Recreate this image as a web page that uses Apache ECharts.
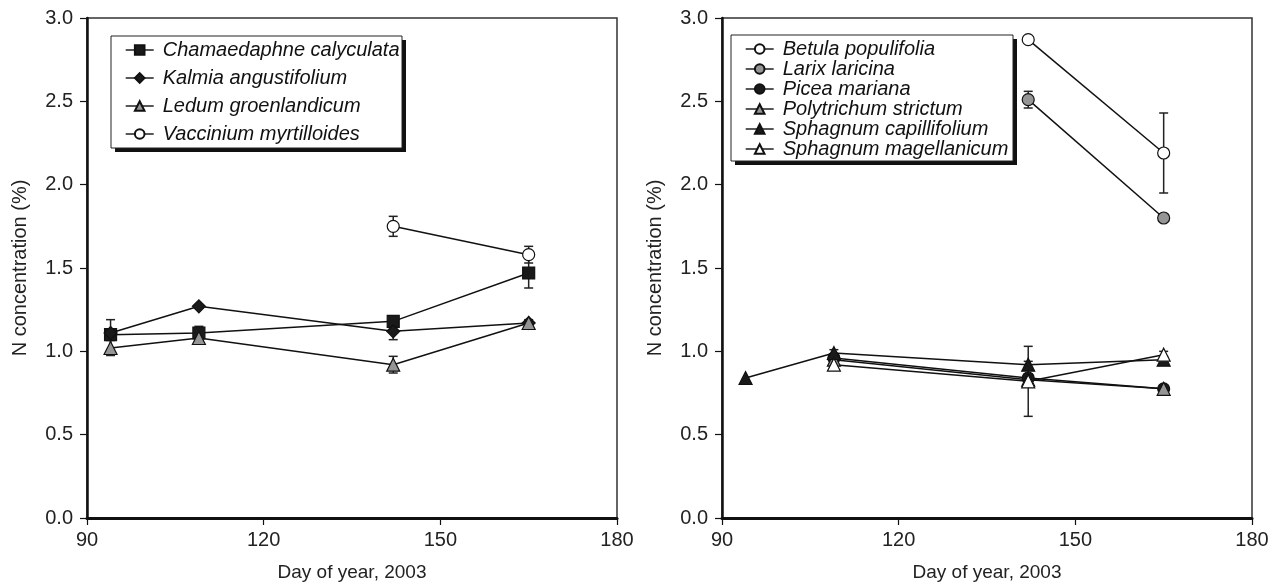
<!DOCTYPE html>
<html>
<head>
<meta charset="utf-8">
<script src="https://cdn.jsdelivr.net/npm/echarts@6/dist/echarts.min.js"></script>
<style>
html, body { margin: 0; padding: 0; background: #fff; }
#chart_n { width: 1277px; height: 585px; }
</style>
</head>
<body>
<div id="chart_n"></div>
<script>
// left panel: shrubs
var days_left = [94, 109, 142, 165];
var days_vacc = [142, 165];
var n_chamaedaphne = [1.10, 1.11, 1.18, 1.47];
var err_chamaedaphne = [0.09, 0.04, 0.02, 0.09];
var n_kalmia = [1.11, 1.27, 1.12, 1.17];
var err_kalmia = [0, 0, 0.05, 0];
var n_ledum = [1.02, 1.08, 0.92, 1.17];
var err_ledum = [0.045, 0.02, 0.05, 0.02];
var n_vaccinium = [1.75, 1.58];
var err_vaccinium = [0.06, 0.05];

// right panel: trees and mosses
var days_tree = [142, 165];
var days_moss = [109, 142, 165];
var days_capill = [94, 109, 142, 165];
var n_betula = [2.87, 2.19];
var err_betula = [0, 0.24];
var n_larix = [2.51, 1.80];
var err_larix = [0.05, 0];
var n_picea = [0.96, 0.84, 0.775];
var err_picea = [0.02, 0.02, 0];
var n_polytrichum = [0.95, 0.83, 0.775];
var err_polytrichum = [0.02, 0.02, 0.01];
var n_capillifolium = [0.84, 0.99, 0.92, 0.95];
var err_capillifolium = [0, 0.02, 0.02, 0.02];
var n_magellanicum = [0.92, 0.82, 0.98];
var err_magellanicum = [0.02, 0.21, 0.02];

var x_ticks = [90, 120, 150, 180];
var y_ticks = [0, 0.5, 1.0, 1.5, 2.0, 2.5, 3.0];

var font_main = "'Liberation Sans', Arial, sans-serif";
var gray_fill = '#959595';

function make_points(days, vals){
    var pts = [];
    for(var i = 0; i < days.length; i++){
        pts.push([days[i], vals[i]]);
    }
    return pts;
}

function make_err(days, vals, errs){
    var pts = [];
    for(var i = 0; i < days.length; i++){
        if(errs[i] > 0)
            pts.push([days[i], vals[i], errs[i]]);
    }
    return pts;
}

function render_err(params, api){
    var x = api.value(0), y = api.value(1), e = api.value(2);
    var top = api.coord([x, y + e]);
    var bot = api.coord([x, y - e]);
    var hw = 4.5;
    var st = { stroke: '#222', lineWidth: 1.5 };
    return {
        type: 'group',
        children: [
            { type: 'line', shape: { x1: top[0], y1: top[1], x2: bot[0], y2: bot[1] }, style: st },
            { type: 'line', shape: { x1: top[0] - hw, y1: top[1], x2: top[0] + hw, y2: top[1] }, style: st },
            { type: 'line', shape: { x1: bot[0] - hw, y1: bot[1], x2: bot[0] + hw, y2: bot[1] }, style: st }
        ]
    };
}

function line_series(name, idx, days, vals, symbol, fill, size){
    return {
        name: name,
        type: 'line',
        xAxisIndex: idx,
        yAxisIndex: idx,
        data: make_points(days, vals),
        symbol: symbol,
        symbolSize: size,
        showAllSymbol: true,
        z: 3,
        lineStyle: { color: '#111', width: 1.5 },
        itemStyle: { color: fill, borderColor: '#111', borderWidth: 1.2 },
        emphasis: { disabled: true },
        animation: false
    };
}

function err_series(idx, days, vals, errs){
    return {
        type: 'custom',
        xAxisIndex: idx,
        yAxisIndex: idx,
        data: make_err(days, vals, errs),
        renderItem: render_err,
        z: 2,
        silent: true,
        animation: false
    };
}

function x_axis(idx){
    return {
        type: 'value',
        gridIndex: idx,
        min: x_ticks[0],
        max: x_ticks[x_ticks.length - 1],
        interval: 30,
        name: 'Day of year, 2003',
        nameLocation: 'middle',
        nameGap: 45,
        nameTextStyle: { fontFamily: font_main, fontSize: 19, color: '#222' },
        axisLine: { lineStyle: { color: '#111', width: 3 } },
        axisTick: { inside: false, length: 7, lineStyle: { color: '#111', width: 1.2 } },
        axisLabel: { fontFamily: font_main, fontSize: 20, color: '#222', margin: 12 },
        splitLine: { show: false }
    };
}

function y_axis(idx){
    return {
        type: 'value',
        gridIndex: idx,
        min: y_ticks[0],
        max: y_ticks[y_ticks.length - 1],
        interval: 0.5,
        name: 'N concentration (%)',
        nameLocation: 'middle',
        nameGap: 57,
        nameTextStyle: { fontFamily: font_main, fontSize: 20, color: '#222' },
        axisLine: { lineStyle: { color: '#111', width: 2.5 } },
        axisTick: { inside: false, length: 7, lineStyle: { color: '#111', width: 1.2 } },
        axisLabel: {
            fontFamily: font_main, fontSize: 20, color: '#222', margin: 14,
            formatter: function(v){ return v.toFixed(1); }
        },
        splitLine: { show: false }
    };
}

function legend_list(left, top, names, gap){
    return {
        left: left,
        top: top,
        z: 10,
        orient: 'vertical',
        data: names,
        itemWidth: 28,
        itemHeight: 12,
        itemGap: gap,
        padding: [4, 6, 4, 14],
        selectedMode: false,
        lineStyle: { width: 1.4 },
        textStyle: {
            fontFamily: font_main, fontSize: 20, fontStyle: 'italic', color: '#111',
            lineHeight: 20, padding: [0, 0, 0, 4]
        }
    };
}

// legend frames with a hard black drop shadow
function legend_frame(x, y, w, h){
    return [
        { type: 'rect', z: 5, shape: { x: x + 4, y: y + 4, width: w, height: h }, style: { fill: '#111' } },
        { type: 'rect', z: 6, shape: { x: x, y: y, width: w, height: h }, style: { fill: '#fff', stroke: '#222', lineWidth: 1 } }
    ];
}

var option_n = {
    backgroundColor: '#fff',
    animation: false,
    grid: [
        { left: 87, right: 660, top: 18, bottom: 67, show: true, borderColor: '#333', borderWidth: 1.5, outerBoundsMode: 'none', containLabel: false },
        { left: 722, right: 25, top: 18, bottom: 67, show: true, borderColor: '#333', borderWidth: 1.5, outerBoundsMode: 'none', containLabel: false }
    ],
    graphic: legend_frame(111, 36, 291, 112).concat(legend_frame(731, 35, 282, 126)),
    xAxis: [x_axis(0), x_axis(1)],
    yAxis: [y_axis(0), y_axis(1)],
    legend: [
        legend_list(111, 36, ['Chamaedaphne calyculata', 'Kalmia angustifolium', 'Ledum groenlandicum', 'Vaccinium myrtilloides'], 8),
        legend_list(731, 35, ['Betula populifolia', 'Larix laricina', 'Picea mariana', 'Polytrichum strictum', 'Sphagnum capillifolium', 'Sphagnum magellanicum'], 0)
    ],
    series: [
        err_series(0, days_left, n_chamaedaphne, err_chamaedaphne),
        err_series(0, days_left, n_kalmia, err_kalmia),
        err_series(0, days_left, n_ledum, err_ledum),
        err_series(0, days_vacc, n_vaccinium, err_vaccinium),
        line_series('Chamaedaphne calyculata', 0, days_left, n_chamaedaphne, 'rect', '#1a1a1a', 12),
        line_series('Kalmia angustifolium', 0, days_left, n_kalmia, 'diamond', '#1a1a1a', 13),
        line_series('Ledum groenlandicum', 0, days_left, n_ledum, 'triangle', gray_fill, 13),
        line_series('Vaccinium myrtilloides', 0, days_vacc, n_vaccinium, 'circle', '#fff', 12),

        err_series(1, days_tree, n_betula, err_betula),
        err_series(1, days_tree, n_larix, err_larix),
        err_series(1, days_moss, n_picea, err_picea),
        err_series(1, days_moss, n_polytrichum, err_polytrichum),
        err_series(1, days_capill, n_capillifolium, err_capillifolium),
        err_series(1, days_moss, n_magellanicum, err_magellanicum),
        line_series('Betula populifolia', 1, days_tree, n_betula, 'circle', '#fff', 12),
        line_series('Larix laricina', 1, days_tree, n_larix, 'circle', gray_fill, 12),
        line_series('Picea mariana', 1, days_moss, n_picea, 'circle', '#1a1a1a', 12),
        line_series('Polytrichum strictum', 1, days_moss, n_polytrichum, 'triangle', gray_fill, 13),
        line_series('Sphagnum capillifolium', 1, days_capill, n_capillifolium, 'triangle', '#1a1a1a', 13),
        line_series('Sphagnum magellanicum', 1, days_moss, n_magellanicum, 'triangle', '#fff', 13)
    ]
};

var echarts_n = echarts.init(document.getElementById('chart_n'), null, { renderer: 'canvas' });
echarts_n.setOption(option_n);
</script>
</body>
</html>
